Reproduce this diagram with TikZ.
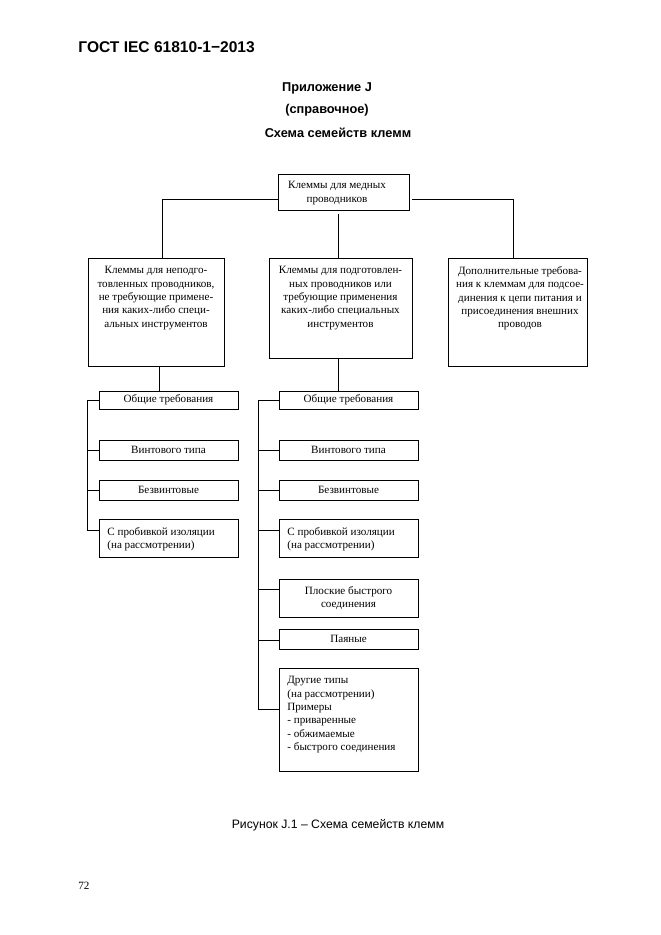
\documentclass[tikz,border=0pt]{standalone}
\usepackage{fontspec}
\setmainfont{Liberation Serif}
\newfontfamily\hsans{Liberation Sans}
\usetikzlibrary{calc}
\begin{document}
\begin{tikzpicture}[x=0.9pt,y=-0.9pt,line width=0.7pt,
  box/.style={draw,inner sep=0pt,font=\fontsize{10}{12}\selectfont,align=center},
  sz/.style 2 args={minimum width=#1*0.9pt,minimum height=#2*0.9pt},
  txt/.style={inner sep=0pt,font=\fontsize{10}{12}\selectfont,align=center},
  txtl/.style={inner sep=0pt,font=\fontsize{10}{12}\selectfont,align=left},
  head/.style={inner sep=0pt,font=\hsans\bfseries\fontsize{11.5}{14}\selectfont}]
\useasboundingbox (0,0) rectangle (661,935);
% header
\node[inner sep=0pt,anchor=base west,font=\hsans\bfseries\fontsize{14}{16}\selectfont] (gost) at (78,52) {ГОСТ IEC 61810-1−2013};
\node[head] (app) at (327,88) {Приложение J};
\node[head] (ref) at (327,110) {(справочное)};
\node[head] (ttl) at (338,133) {Схема семейств клемм};
% top box
\node[box,sz={131}{36}] (T) at (343.5,192) {};
\node[txt] (Tt) at (337,193) {Клеммы для медных\\проводников};
% level 2
\node[box,sz={136}{108}] (L) at (156,312) {};
\node[txt,anchor=north] (Lt) at (156,266) {Клеммы для неподго-\\товленных проводников,\\не требующие примене-\\ния каких-либо специ-\\альных инструментов};
\node[box,sz={143}{100}] (M) at (340.5,308) {};
\node[txt,anchor=north] (Mt) at (340.5,266) {Клеммы для подготовлен-\\ных проводников или\\требующие применения\\каких-либо специальных\\инструментов};
\node[box,sz={139}{108}] (R) at (517.5,312) {};
\node[txt,anchor=north] (Rt) at (520,266) {Дополнительные требова-\\ния к клеммам для подсое-\\динения к цепи питания и\\присоединения внешних\\проводов};
% left column
\node[box,sz={139}{18}] (L1) at (168.5,400) {Общие требования};
\node[box,sz={139}{20}] (L2) at (168.5,450) {Винтового типа};
\node[box,sz={139}{20}] (L3) at (168.5,490) {Безвинтовые};
\node[box,sz={139}{38}] (L4) at (168.5,538) {};
\node[txtl,anchor=west] (L4t) at (107,539) {С пробивкой изоляции\\(на рассмотрении)};
% middle column
\node[box,sz={139}{18}] (M1) at (348.5,400) {Общие требования};
\node[box,sz={139}{20}] (M2) at (348.5,450) {Винтового типа};
\node[box,sz={139}{20}] (M3) at (348.5,490) {Безвинтовые};
\node[box,sz={139}{38}] (M4) at (348.5,538) {};
\node[txtl,anchor=west] (M4t) at (287,539) {С пробивкой изоляции\\(на рассмотрении)};
\node[box,sz={139}{38}] (M5) at (348.5,598) {Плоские быстрого\\соединения};
\node[box,sz={139}{20}] (M6) at (348.5,639) {Паяные};
\node[box,sz={139}{103}] (M7) at (348.5,719.5) {};
\node[txtl,anchor=north west] (M7t) at (287,676) {Другие типы\\(на рассмотрении)\\Примеры\\- приваренные\\- обжимаемые\\- быстрого соединения};
% connectors top
\draw ($(L.north)+(6,0)$) |- ($(T.west)+(0,7)$);
\draw ($(T.east)+(3,7)$) -| ($(R.north)+(-4.5,0)$);
\draw ($(T.south)+(-5.5,4)$) -- ($(M.north)+(-2.5,0)$);
\draw ($(L.south)+(3,0)$) -- ($(L1.north)+(-9.5,0)$);
\draw ($(M.south)+(-2.5,0)$) -- ($(M1.north)+(-10.5,0)$);
% left bracket
\draw (L1.west) -| ($(L4.west)+(-11,-8)$) -- ($(L4.west)+(0,-8)$);
\draw ($(L2.west)+(-11,0)$) -- (L2.west);
\draw ($(L3.west)+(-11,0)$) -- (L3.west);
% middle bracket
\draw (M1.west) -| ($(M7.west)+(-20,-10.5)$) -- ($(M7.west)+(0,-10.5)$);
\draw ($(M2.west)+(-20,0)$) -- (M2.west);
\draw ($(M3.west)+(-20,0)$) -- (M3.west);
\draw ($(M4.west)+(-20,-8)$) -- ($(M4.west)+(0,-8)$);
\draw ($(M5.west)+(-20,-9)$) -- ($(M5.west)+(0,-9)$);
\draw ($(M6.west)+(-20,1)$) -- ($(M6.west)+(0,1)$);
% caption
\node[inner sep=0pt,font=\hsans\fontsize{11}{13}\selectfont] (cap) at (338,825) {Рисунок J.1 – Схема семейств клемм};
\node[inner sep=0pt,anchor=west,font=\fontsize{10}{12}\selectfont] (pg) at (78,886) {72};
\end{tikzpicture}
\end{document}
